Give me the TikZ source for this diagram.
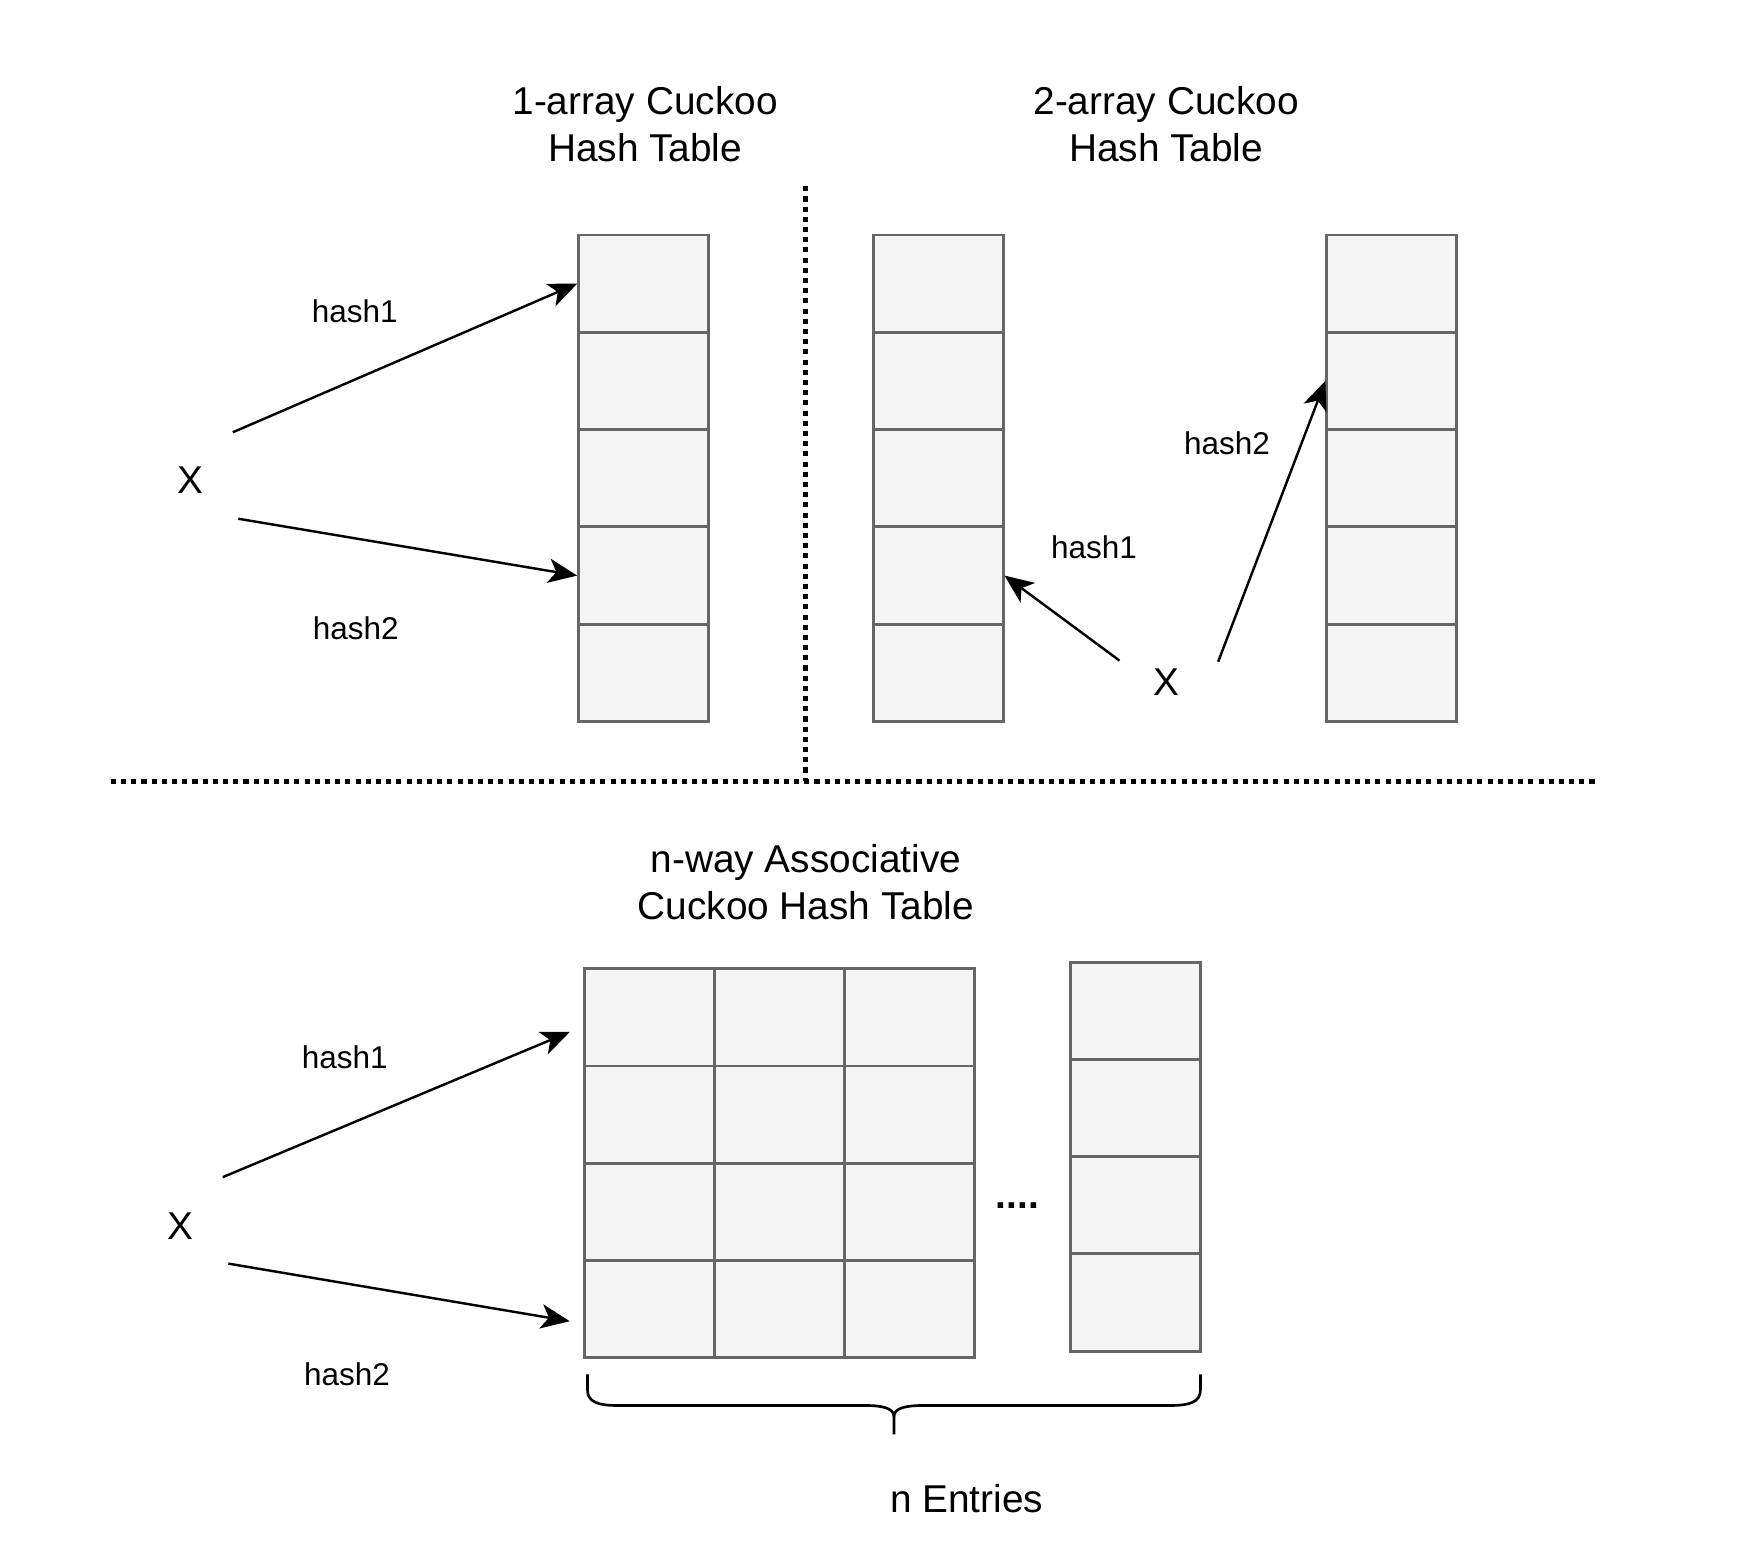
\documentclass[tikz,border=0pt]{standalone}
\usepackage{fontspec}
\setmainfont{Liberation Sans}
\usetikzlibrary{arrows.meta}
\definecolor{cellfill}{HTML}{F5F5F5}
\definecolor{cellline}{HTML}{666666}
\begin{document}
\begin{tikzpicture}[x=0.5pt,y=-0.5pt,
  cell/.style={draw=cellline,fill=cellfill,line width=1.3pt,minimum width=58.5pt,minimum height=43.9pt,inner sep=0pt},
  bigtext/.style={font=\fontsize{17.5pt}{21pt}\selectfont,align=center,inner sep=0pt},
  smalltext/.style={font=\fontsize{14.2pt}{17pt}\selectfont,inner sep=0pt},
  harrow/.style={line width=1.1pt,-{Stealth[length=13pt,width=11pt,inset=3.5pt]}},
  sep/.style={line width=2.3pt,dash pattern=on 2.3pt off 2.3pt},
  bracepath/.style={line width=1.2pt,line join=round}
]
\useasboundingbox (0,0) rectangle (1568,1406);

% titles
\node[bigtext] (title1) at (582,112) {1-array Cuckoo\\Hash Table};
\node[bigtext] (title2) at (1052,112) {2-array Cuckoo\\Hash Table};
\node[bigtext] (title3) at (727,796) {n-way Associative\\Cuckoo Hash Table};

% separators
\coordinate (vtop) at (727,168);
\coordinate (vbot) at (727,705);
\coordinate (hleft) at (100,705);
\coordinate (hright) at (1440,705);
\draw[sep] (vtop) -- (vbot);
\draw[sep] (hleft) -- (hright);

% tables (top)
\foreach \i in {1,...,5} {
  \node[cell] (ta-\i) at (580.5,{212+87.8*(\i-0.5)}) {};
  \node[cell] (tb-\i) at (846.5,{212+87.8*(\i-0.5)}) {};
  \node[cell] (tc-\i) at (1255.5,{212+87.8*(\i-0.5)}) {};
}

% 1-array
\node[bigtext] (x1) at (172,433) {X};
\coordinate (x1a) at (210,390);
\coordinate (x1b) at (215,468);
\draw[harrow] (x1a) -- (ta-1.west);
\draw[harrow] (x1b) -- (ta-4.west);
\node[smalltext] (l1a) at (320,281) {hash1};
\node[smalltext] (l1b) at (321,567) {hash2};

% 2-array
\node[bigtext] (x2) at (1052,615) {X};
\coordinate (x2a) at (1010,596);
\coordinate (x2b) at (1099,597);
\draw[harrow] (x2a) -- (tb-4.east);
\draw[harrow] (x2b) -- (tc-2.west);
\node[smalltext] (l2a) at (987,494) {hash1};
\node[smalltext] (l2b) at (1107,400) {hash2};

% n-way grid
\foreach \r in {1,...,4} {
  \foreach \c in {1,2,3} {
    \node[cell,minimum width=58.7pt] (g-\r-\c) at ({527+117.33*(\c-0.5)},{874+87.75*(\r-0.5)}) {};
  }
  \node[cell] (gs-\r) at (1024.5,{868+87.75*(\r-0.5)}) {};
}
\node[font=\fontsize{17.5pt}{21pt}\selectfont\bfseries,inner sep=0pt] (dots) at (918,1088) {....};

\node[bigtext] (x3) at (163,1106) {X};
\coordinate (x3a) at (201,1062);
\coordinate (x3b) at (206,1140);
\coordinate (e3a) at (514,931);
\coordinate (e3b) at (514,1192);
\draw[harrow] (x3a) -- (e3a);
\draw[harrow] (x3b) -- (e3b);
\node[smalltext] (l3a) at (311,954) {hash1};
\node[smalltext] (l3b) at (313,1240) {hash2};

% brace
\draw[bracepath] (530,1240) -- (530,1254) .. controls (530,1265) and (540,1268) .. (557,1268) -- (780,1268)
  .. controls (795,1268) and (806.5,1270) .. (806.5,1278) -- (806.5,1294);
\draw[bracepath] (806.5,1278) .. controls (806.5,1270) and (818,1268) .. (833,1268) -- (1056,1268)
  .. controls (1073,1268) and (1083,1265) .. (1083,1254) -- (1083,1240);
\node[bigtext] (nent) at (872,1352) {n Entries};
\end{tikzpicture}
\end{document}
